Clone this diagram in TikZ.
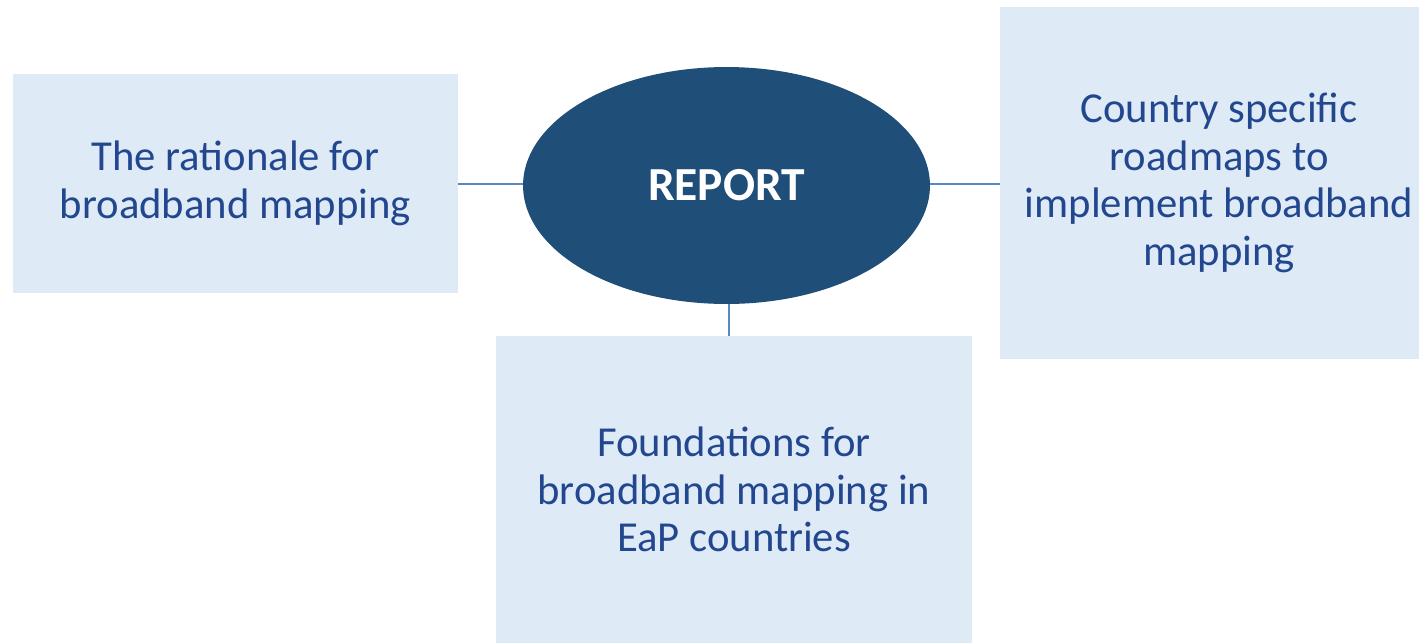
\documentclass[tikz,border=0pt]{standalone}
\usepackage{fontspec}
\setmainfont{Carlito}
\usetikzlibrary{shapes.geometric}
\definecolor{boxfill}{HTML}{DEEAF6}
\definecolor{ovalfill}{HTML}{1F4E79}
\definecolor{boxtext}{HTML}{22478F}
\definecolor{linkline}{HTML}{5A89C2}
\tikzset{
  topicbox/.style={rectangle, fill=boxfill, text=boxtext, align=center, inner sep=0pt,
    font=\fontsize{24.3}{27.2}\selectfont},
  reportoval/.style={ellipse, fill=ovalfill, text=white, inner sep=0pt,
    minimum width=8.14cm, minimum height=4.74cm, font=\fontsize{27}{30}\selectfont\bfseries},
  link/.style={draw=linkline, line width=0.9pt}
}
\begin{document}
\begin{tikzpicture}[x=0.02cm, y=-0.02cm]
			%%%%% START %%%%%
			\useasboundingbox (0, 0) rectangle (1419, 643);
			
			\node[topicbox, minimum width=8.9cm, minimum height=4.38cm] (rationale) at (235.5, 183.5)
				{The rationale for\\broadband mapping};
			% box runs past the right edge
			\node[topicbox, minimum width=8.76cm, minimum height=7.04cm] (roadmaps) at (1219, 183)
				{Country specific\\roadmaps to\\implement broadband\\mapping};
			\node[topicbox, minimum width=9.52cm, minimum height=6.14cm] (foundations) at (734, 489.5)
				{Foundations for\\broadband mapping in\\EaP countries};
			
			\node[reportoval] (report) at (726.5, 185.5) {REPORT};
			
			%%%%% LINKS %%%%%
			\draw[link] (rationale.east |- 0, 184) -- (report.west |- 0, 184);
			\draw[link] (report.east |- 0, 184) -- (roadmaps.west |- 0, 184);
			\draw[link] (report.south -| 729, 0) -- (foundations.north -| 729, 0);
			
			%%%%% END %%%%%
\end{tikzpicture}
\end{document}
